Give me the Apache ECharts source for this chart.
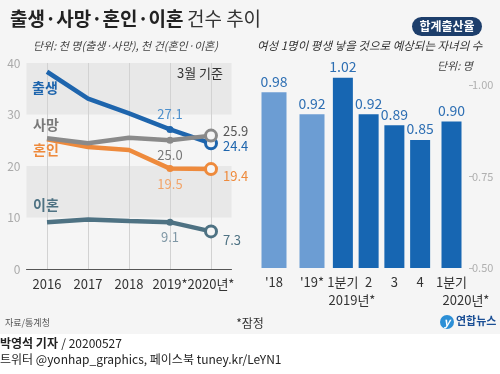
<!DOCTYPE html>
<html><head><meta charset="utf-8">
<script src="https://cdn.jsdelivr.net/npm/echarts@6/dist/echarts.min.js"></script>
<style>html,body{margin:0;padding:0;background:#f5f5f5}#c{width:500px;height:374px}</style>
</head><body><div id="c"></div>
<script>
// ---- data ----
var years = ['2016', '2017', '2018', '2019*', '2020년*'];
var births = [38.3, 33.1, 30.2, 27.1, 24.4];
var deaths = [25.4, 24.4, 25.5, 25.0, 25.9];
var marriages = [25.2, 23.7, 23.1, 19.5, 19.4];
var divorces = [9.1, 9.6, 9.3, 9.1, 7.3];
var yTicks = [0, 10, 20, 30, 40];

var annualLabels = ["'18", "'19*"];
var annualRates = [0.98, 0.92];
var q2019Labels = ['1분기', '2', '3', '4'];
var q2019Rates = [1.02, 0.92, 0.89, 0.85];
var q2020Labels = ['1분기'];
var q2020Rates = [0.90];
var rateTicks = [0.5, 0.75, 1.0];

var FONT = '"Noto Sans CJK KR", "Noto Sans", sans-serif';
var chart = echarts.init(document.getElementById('c'));

function lineSeries(name, values, color, c2019, pos2019, c2020, off2020, z) {
  var data = values.map(function (v, i) {
    var item = { value: v };
    if (i === 3) {
      item.symbol = 'circle'; item.symbolSize = 7;
      item.itemStyle = { color: color, borderWidth: 0 };
      item.label = { show: true, position: pos2019, distance: 5, color: c2019 };
    } else if (i === 4) {
      item.symbol = 'circle'; item.symbolSize = 11;
      item.itemStyle = { color: '#f5f5f5', borderColor: color, borderWidth: 3 };
      item.label = { show: true, position: 'right', distance: 5, offset: [0, off2020], color: c2020 };
    } else {
      item.symbol = 'none'; item.symbolSize = 0;
    }
    return item;
  });
  return {
    type: 'line', name: name, xAxisIndex: 0, yAxisIndex: 0, data: data, z: z,
    lineStyle: { color: color, width: 4.5 }, itemStyle: { color: color },
    showSymbol: true, smooth: false,
    label: { show: false, fontSize: 13, fontFamily: FONT, formatter: function (p) { return p.value.toFixed(1); } }
  };
}

function barSeries(idx, values, color, width) {
  return {
    type: 'bar', xAxisIndex: idx, yAxisIndex: idx, data: values, barWidth: width,
    itemStyle: { color: color },
    label: { show: true, position: 'top', distance: 4, fontSize: 14, color: '#2e6fb3', fontFamily: FONT,
      formatter: function (p) { return p.value.toFixed(2); } }
  };
}

var barGridTop = 48.4, barGridBottom = 106;
function barY(idx, visible) {
  return {
    type: 'value', gridIndex: idx, min: 0.5, max: 1.1, position: 'right', offset: 5,
    axisLine: { show: false }, splitLine: { show: false },
    axisTick: { show: visible, length: 4, lineStyle: { color: '#bbb' }, customValues: rateTicks },
    axisLabel: { show: visible, customValues: rateTicks, margin: 3, fontSize: 11, color: '#b0b0b0', fontFamily: FONT,
      formatter: function (v) { return v.toFixed(2); } }
  };
}
function barX(idx, cats) {
  return {
    type: 'category', gridIndex: idx, data: cats,
    axisLine: { show: false }, axisTick: { show: false }, splitLine: { show: false },
    axisLabel: { margin: 8, fontSize: 13, color: '#333', fontFamily: FONT, interval: 0 }
  };
}

function txt(left, top, text, size, color, extra) {
  var st = { text: text, fontSize: size, fill: color, fontFamily: FONT };
  for (var k in (extra || {})) st[k] = extra[k];
  return { type: 'text', left: left, top: top, z: 100, style: st };
}

var lineGridTop = 63, lineGridBottom = 105;

chart.setOption({
  backgroundColor: '#f5f5f5',
  animation: false,
  textStyle: { fontFamily: FONT },
  grid: [
    { left: 26.5, right: 268.5, top: lineGridTop, bottom: lineGridBottom },
    { left: 255, width: 76, top: barGridTop, bottom: barGridBottom },
    { left: 330, width: 103, top: barGridTop, bottom: barGridBottom },
    { left: 439, width: 25, top: barGridTop, bottom: barGridBottom }
  ],
  xAxis: [
    {
      type: 'category', gridIndex: 0, data: years, boundaryGap: true, z: 3,
      axisLine: { lineStyle: { color: '#555', width: 1 } },
      axisTick: { show: true, inside: true, alignWithLabel: true, interval: 0,
        length: 374 - lineGridTop - lineGridBottom, lineStyle: { color: '#d2d2d2', width: 1 } },
      splitLine: { show: false },
      axisLabel: { margin: 9, fontSize: 13, color: '#333', fontFamily: FONT, interval: 0 }
    },
    barX(1, annualLabels), barX(2, q2019Labels), barX(3, q2020Labels)
  ],
  yAxis: [
    {
      type: 'value', gridIndex: 0, min: yTicks[0], max: yTicks[yTicks.length - 1], interval: 10, z: 1,
      axisLine: { show: false }, axisTick: { show: false },
      splitLine: { show: false },
      splitArea: { show: true, areaStyle: { color: ['rgba(0,0,0,0)', '#e8e8e8'] } },
      axisLabel: { margin: 6, fontSize: 12, color: '#aaa', fontFamily: FONT }
    },
    barY(1, false), barY(2, false), barY(3, true)
  ],
  series: [
    lineSeries('이혼', divorces, '#4e7283', '#7f97a5', 'bottom', '#4e7283', 9, 12),
    lineSeries('혼인', marriages, '#ee8a3c', '#f2a469', 'bottom', '#ee8a3c', 7, 13),
    lineSeries('출생', births, '#1e65ad', '#4d8fcc', 'top', '#1e65ad', 3, 14),
    lineSeries('사망', deaths, '#8a8a8a', '#777', 'bottom', '#555', -5, 15),
    barSeries(1, annualRates, '#6c9dd3', 25),
    barSeries(2, q2019Rates, '#1766b2', 20),
    barSeries(3, q2020Rates, '#1766b2', 20)
  ],
  graphic: [
    { type: 'rect', left: 0, top: 334, z: 0, shape: { width: 500, height: 40 }, style: { fill: '#ffffff' } },
    { type: 'text', left: 10, top: 9, z: 100, style: {
        text: '{b|출생·사망·혼인·이혼} {l|건수 추이}',
        rich: { b: { fontSize: 19, fontWeight: 'bold', fill: '#222', fontFamily: FONT },
                l: { fontSize: 19, fontWeight: 'normal', fill: '#333', fontFamily: FONT } } } },
    txt(33, 40, '단위: 천 명(출생·사망), 천 건(혼인·이혼)', 11, '#444', { fontStyle: 'italic' }),
    txt(177, 67, '3월 기준', 13, '#333'),
    txt(32, 81, '출생', 14, '#1e65ad', { fontWeight: 'bold' }),
    txt(33, 118, '사망', 14, '#7a7a7a', { fontWeight: 'bold' }),
    txt(33, 143, '혼인', 14, '#ee8a3c', { fontWeight: 'bold' }),
    txt(33, 198, '이혼', 14, '#4e7283', { fontWeight: 'bold' }),
    { type: 'rect', left: 412, top: 17, z: 100, shape: { width: 70, height: 19, r: 9.5 }, style: { fill: '#1d3e6b' } },
    { type: 'text', x: 447, y: 26.5, z: 101, style: { text: '합계출산율', fontSize: 12, fontWeight: 'bold', fill: '#fff', align: 'center', verticalAlign: 'middle', fontFamily: FONT } },
    txt(257, 40, '여성 1명이 평생 낳을 것으로 예상되는 자녀의 수', 11.5, '#333', { fontStyle: 'italic' }),
    txt(437, 60, '단위: 명', 11, '#444', { fontStyle: 'italic' }),
    { type: 'text', x: 352, y: 300, z: 100, style: { text: '2019년*', fontSize: 13, fill: '#333', align: 'center', verticalAlign: 'middle', fontFamily: FONT } },
    { type: 'text', x: 466, y: 300, z: 100, style: { text: '2020년*', fontSize: 13, fill: '#333', align: 'center', verticalAlign: 'middle', fontFamily: FONT } },
    txt(5, 318, '자료/통계청', 9, '#555'),
    { type: 'text', x: 250, y: 323, z: 100, style: { text: '*잠정', fontSize: 12, fill: '#333', align: 'center', verticalAlign: 'middle', fontFamily: FONT } },
    { type: 'circle', z: 100, shape: { cx: 447, cy: 322, r: 7 }, style: { fill: '#2c8fd6' } },
    { type: 'text', x: 447, y: 322, z: 101, style: { text: 'y', fontSize: 11, fontWeight: 'bold', fontStyle: 'italic', fill: '#fff', align: 'center', verticalAlign: 'middle', fontFamily: FONT } },
    txt(456, 315, '연합뉴스', 11, '#1b4f95', { fontWeight: 'bold' }),
    { type: 'text', left: 0, top: 337, z: 100, style: {
        text: '{b|박영석 기자} {n|/ 20200527}',
        rich: { b: { fontSize: 12, fontWeight: 'bold', fill: '#222', fontFamily: FONT },
                n: { fontSize: 12, fill: '#222', fontFamily: FONT } } } },
    txt(0, 353, '트위터 @yonhap_graphics, 페이스북 tuney.kr/LeYN1', 12, '#222')
  ]
});
</script></body></html>
